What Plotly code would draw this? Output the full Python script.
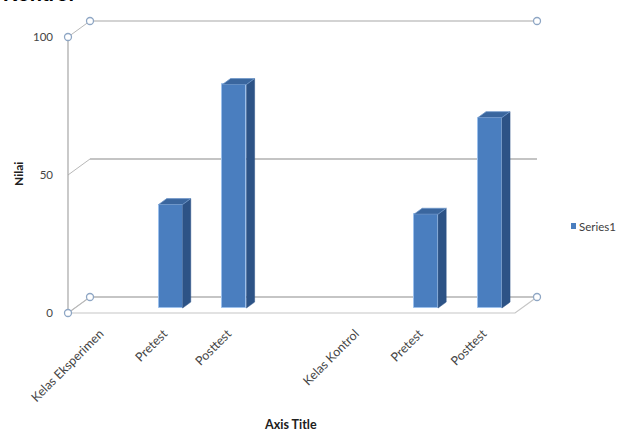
import plotly.graph_objects as go

# ---- data ----
categories = ["Kelas Eksperimen", "Pretest", "Posttest", "", "Kelas Kontrol", "Pretest", "Posttest"]
values = [None, 37.5, 81, None, None, 34, 69]
series_name = "Series1"
y_ticks = [0, 50, 100]
y_title = "Nilai"
x_title = "Axis Title"

# ---- geometry of the pseudo-3D frame (in axis units) ----
DX = 0.3445      # depth offset along x (category units)
DY = 5.8         # depth offset along y (value units)
BAR_W = 0.376
F0 = 0.31        # front face depth fraction of bars
FD = 0.37        # bar depth fraction
n = len(categories)
X_L, X_R = -0.5, n - 0.5

FRONT = "#4A7EBF"
SIDE = "#2D5386"
TOP = "#3A669E"
FONT = "Lato"

fig = go.Figure()

# walls / floor
shapes = []
shapes.append(dict(type="path", layer="below",
                   path=f"M{X_L},0 L{X_R},0 L{X_R+DX},{DY} L{X_L+DX},{DY} Z",
                   fillcolor="#ffffff", line=dict(color="#c6c6c6", width=1.2)))
for t in y_ticks:
    col = "#8a8a8a" if t not in (0, max(y_ticks)) else "#a8a8a8"
    shapes.append(dict(type="line", layer="below", x0=X_L, y0=t, x1=X_L + DX, y1=t + DY,
                       line=dict(color="#b8b8b8", width=1)))
    shapes.append(dict(type="line", layer="below", x0=X_L + DX, y0=t + DY, x1=X_R + DX, y1=t + DY,
                       line=dict(color=col, width=1.2)))
shapes.append(dict(type="line", layer="below", x0=X_L, y0=0, x1=X_L, y1=max(y_ticks),
                   line=dict(color="#a6a6a6", width=1.2)))

# bars: front faces
xs = [i + F0 * DX for i in range(n)]
base = F0 * DY
fig.add_trace(go.Bar(x=xs, y=values, base=base, width=BAR_W, marker=dict(color=FRONT,
                     line=dict(color="#9cc0ec", width=1)), showlegend=False, hoverinfo="skip"))

# side and top faces
sx, sy, tx, ty = [], [], [], []
dx, dy = FD * DX, FD * DY
for x, v in zip(xs, values):
    if v is None:
        continue
    l, r = x - BAR_W / 2, x + BAR_W / 2
    b, h = base, base + v
    sx += [r, r + dx, r + dx, r, r, None]
    sy += [b, b + dy, h + dy, h, b, None]
    tx += [l, r, r + dx, l + dx, l, None]
    ty += [h, h, h + dy, h + dy, h, None]
fig.add_trace(go.Scatter(x=sx, y=sy, mode="lines", fill="toself", fillcolor=SIDE,
                         line=dict(color=SIDE, width=0.5), showlegend=False, hoverinfo="skip"))
fig.add_trace(go.Scatter(x=tx, y=ty, mode="lines", fill="toself", fillcolor=TOP,
                         line=dict(color="#6f97c9", width=0.8), showlegend=False, hoverinfo="skip"))

# selection handles at the wall corners
top = max(y_ticks)
hx = [X_L, X_L + DX, X_R + DX, X_L, X_L + DX, X_R + DX]
hy = [top, top + DY, top + DY, 0, DY, DY]
fig.add_trace(go.Scatter(x=hx, y=hy, mode="markers", cliponaxis=False,
                         marker=dict(symbol="circle", size=7, color="white",
                                     line=dict(color="#8ea6c4", width=1.3)),
                         showlegend=False, hoverinfo="skip"))

# pixel layout
L, R, T, B = 60, 545, 14, 319
px_per_cat = 63.86
px_per_val = 2.76
x0 = -0.5 + (L - 68) / px_per_cat
x1 = -0.5 + (R - 68) / px_per_cat
y0 = (313 - B) / px_per_val
y1 = (313 - T) / px_per_val

def px(xp):
    return (xp - L) / (R - L)

def py(yp):
    return (B - yp) / (B - T)

fig.update_layout(
    width=622, height=432,
    margin=dict(l=L, r=622 - R, t=T, b=432 - B),
    paper_bgcolor="white", plot_bgcolor="white",
    shapes=shapes + [dict(type="rect", xref="paper", yref="paper",
                          x0=px(571), x1=px(576), y0=py(229), y1=py(223),
                          fillcolor=FRONT, line=dict(width=0))],
    xaxis=dict(range=[x0, x1], tickvals=list(range(n)), ticktext=categories, tickangle=-45,
               showgrid=False, zeroline=False, showline=False, ticks="", ticklabelstandoff=4,
               tickfont=dict(family=FONT, size=12.5, color="#454545")),
    yaxis=dict(range=[y0, y1], tickvals=y_ticks, showgrid=False, zeroline=False, showline=False,
               ticks="", ticklabelstandoff=6,
               tickfont=dict(family=FONT, size=11.5, color="#454545")),
    showlegend=False,
    bargap=0,
    annotations=[
        dict(text=f"<b>{y_title}</b>", textangle=-90, xref="paper", yref="paper",
             xanchor="center", yanchor="middle",
             x=px(18), y=py(174), showarrow=False,
             font=dict(family=FONT, size=12, color="#202020")),
        dict(text=f"<b>{x_title}</b>", xref="paper", yref="paper",
             xanchor="center", yanchor="middle",
             x=px(290), y=py(424), showarrow=False,
             font=dict(family=FONT, size=12.5, color="#202020")),
        dict(text=series_name, xref="paper", yref="paper", xanchor="left", yanchor="middle",
             x=px(577), y=py(226), showarrow=False,
             font=dict(family=FONT, size=11.5, color="#404040")),
        dict(text="<b>Kontrol</b>", xref="paper", yref="paper", xanchor="right", yanchor="bottom",
             x=px(76), y=py(7), showarrow=False,
             font=dict(family="Liberation Sans", size=20, color="#000000")),
    ],
)

fig.write_html("out.html")
